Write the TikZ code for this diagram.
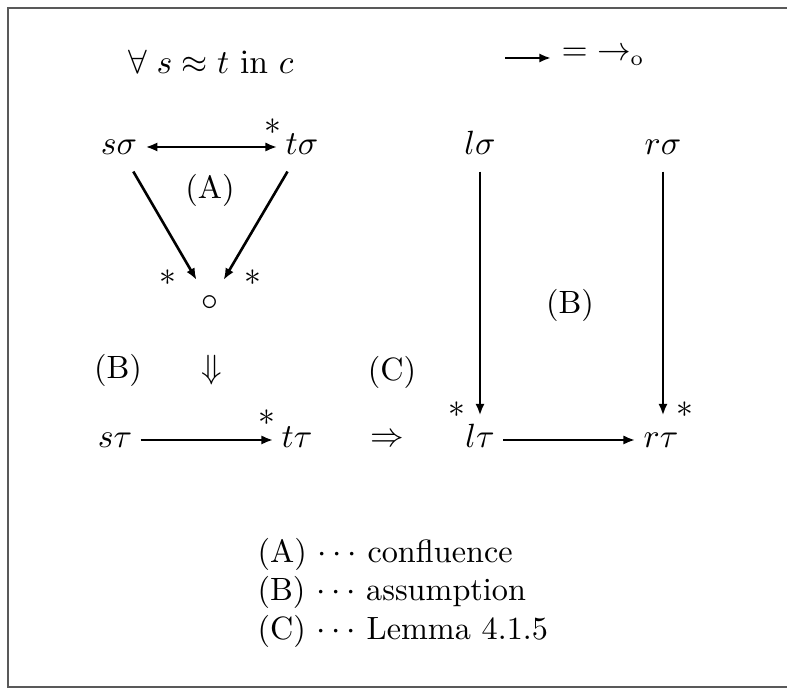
\documentclass[tikz,border=0pt]{standalone}
\usetikzlibrary{arrows.meta}
\begin{document}
\begin{tikzpicture}[x=0.3257pt,y=-0.3257pt,
  every node/.style={font=\fontsize{10.5}{12.6}\selectfont},
  tip/.tip={Latex[length=3.8pt,width=3pt]},
  arr/.style={line width=0.85pt,-tip},
  arrb/.style={line width=0.85pt,tip-tip},
  term/.style={inner xsep=2.6pt,inner ysep=5.3pt,text height=5pt,text depth=0pt},
  lab/.style={inner sep=0pt},
  frame/.style={line width=0.7pt,black!65}]
\useasboundingbox (0,0) rectangle (787,690);
\draw[frame] (787,8) -- (8,8) -- (8,687) -- (787,687);
% heading
\node[lab] (head) at (211,62) {$\forall\; s \approx t\ \mathrm{in}\ c$};
\coordinate (k1) at (505,58);
\coordinate (k2) at (551,58);
\draw[arr] (k1) -- (k2);
\node[lab,anchor=west] (eq) at (561,57) {$=\;\to_{\mathrm{o}}$};
% left diagram
\node[term] (ss) at (119,147) {$s\sigma$};
\node[term] (ts) at (302,147) {$t\sigma$};
\node[circle,inner sep=0pt,minimum size=17pt] (o) at (210,303) {$\circ$};
\draw[arrb] (ss) -- (ts);
\node[lab] (s1) at (273,127) {$*$};
\draw[arr] (ss) -- (o);
\draw[arr] (ts) -- (o);
\node[lab] (s2) at (168,278) {$*$};
\node[lab] (s3) at (253,278) {$*$};
\node[lab] (A1) at (210,190) {(A)};
\node[lab] (B1) at (118,370) {(B)};
\node[lab] (dn) at (212,370) {$\Downarrow$};
\node[lab] (C1) at (392,372) {(C)};
\node[term] (st) at (115,440) {$s\tau$};
\node[term] (tt) at (297,440) {$t\tau$};
\draw[arr] (st) -- (tt);
\node[lab] (s4) at (267,418) {$*$};
\node[lab] (imp) at (387,440) {$\Rightarrow$};
% right diagram
\node[term] (ls) at (480,147) {$l\sigma$};
\node[term] (rs) at (663,147) {$r\sigma$};
\node[term] (lt) at (480,440) {$l\tau$};
\node[term] (rt) at (661,440) {$r\tau$};
\draw[arr] (ls) -- (ls|-lt.north);
\draw[arr] (rs) -- (rs|-rt.north);
\draw[arr] (lt) -- (rt);
\node[lab] (s5) at (457,410) {$*$};
\node[lab] (s6) at (685,410) {$*$};
\node[lab] (B2) at (570,305) {(B)};
% legend
\node[lab,anchor=base west] (L1) at (257,563) {(A) $\cdots$ confluence};
\node[lab,anchor=base west] (L2) at (257,601) {(B) $\cdots$ assumption};
\node[lab,anchor=base west] (L3) at (257,640) {(C) $\cdots$ Lemma 4.1.5};
\end{tikzpicture}
\end{document}
